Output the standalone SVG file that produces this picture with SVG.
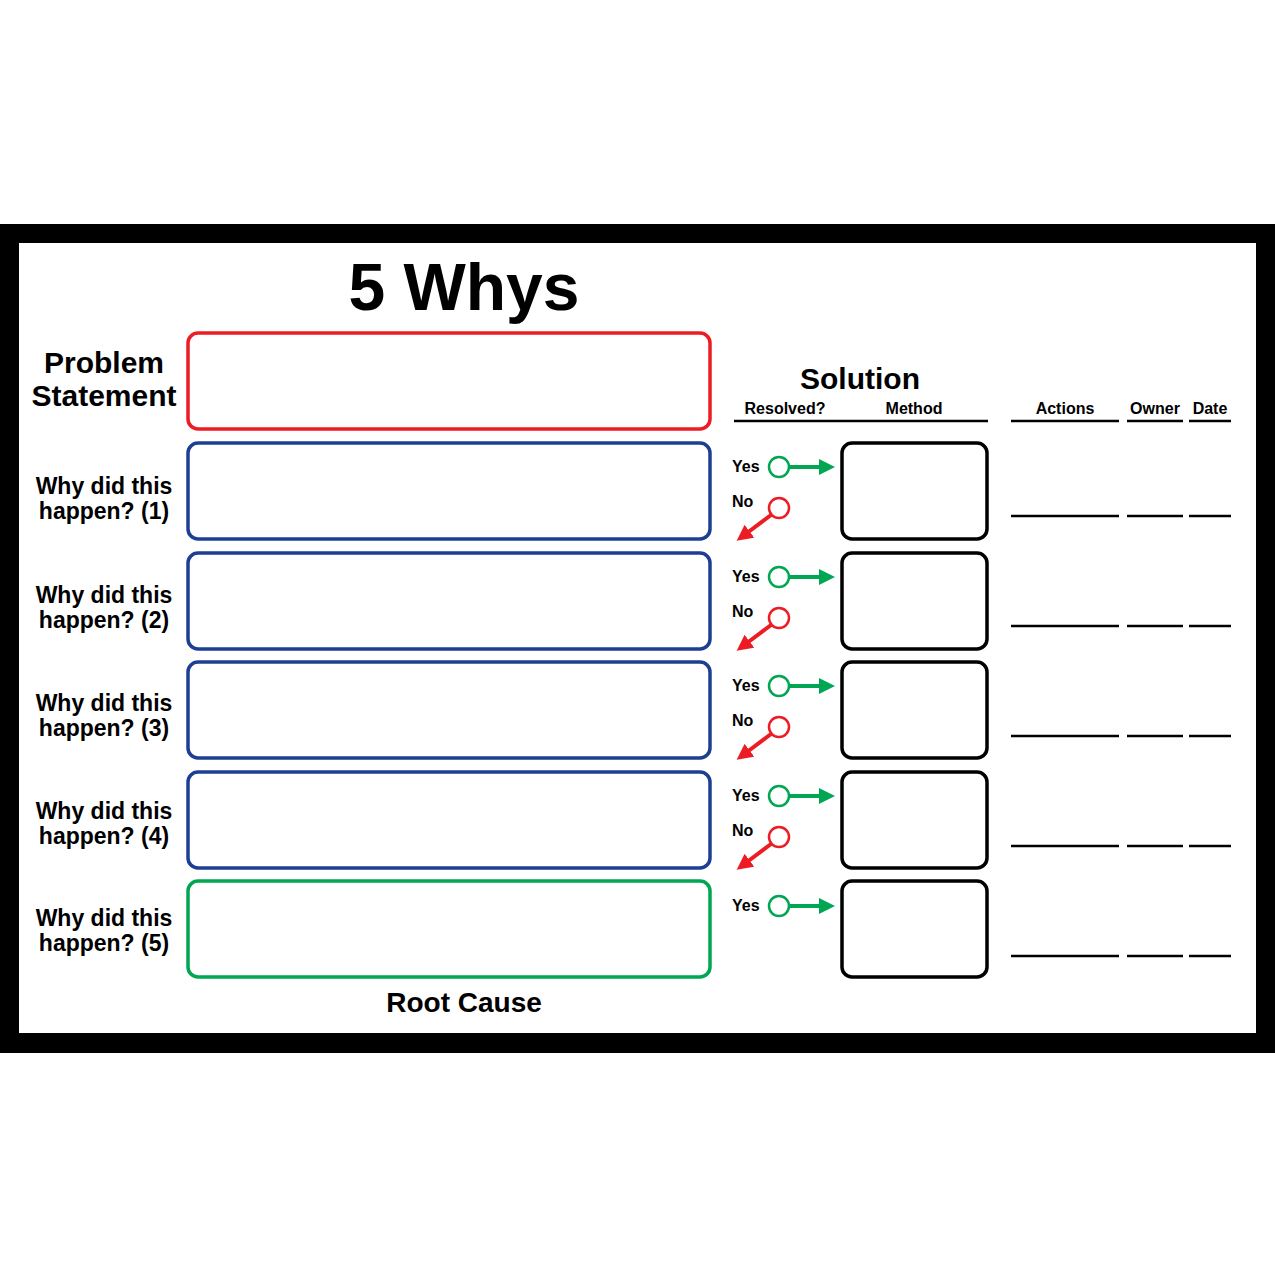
<svg xmlns="http://www.w3.org/2000/svg" width="1275" height="1275" viewBox="0 0 1275 1275">
<style>
text{font-family:"Liberation Sans",Arial,sans-serif;font-weight:bold;fill:#000}
.lbl{font-size:23px;text-anchor:middle}
.sm{font-size:16px}
.box{fill:#fff;stroke-width:3.5}
.m{fill:#fff;stroke:#000;stroke-width:3.5}
.ln{stroke:#000;stroke-width:2.5}
.yc{fill:#fff;stroke:#00a651;stroke-width:2.5}
.nc{fill:#fff;stroke:#ed1c24;stroke-width:2.5}
</style>
<defs>
<marker id="ga" markerWidth="4" markerHeight="4" refX="2" refY="2" orient="auto"><path d="M0,0L4,2L0,4z" fill="#00a651"/></marker>
<marker id="ra" markerWidth="4" markerHeight="4" refX="2" refY="2" orient="auto"><path d="M0,0L4,2L0,4z" fill="#ed1c24"/></marker>
</defs>
<rect width="1275" height="1275" fill="#fff"/>
<rect x="0" y="224" width="1275" height="829" fill="#000"/>
<rect x="19" y="243" width="1237" height="790" fill="#fff"/>
<text x="464" y="310" font-size="66" text-anchor="middle">5 Whys</text>
<g id="problem"><text class="lbl" x="104" y="373" style="font-size:30px">Problem</text><text class="lbl" x="104" y="406" style="font-size:30px">Statement</text>
<rect class="box" x="188" y="333" width="522" height="96" rx="10" stroke="#ed1c24"/></g>
<g id="why1"><text class="lbl" x="104" y="494">Why did this</text><text class="lbl" x="104" y="519">happen? (1)</text><rect class="box" x="188" y="443" width="522" height="96" rx="10" stroke="#1c3f94"/></g>
<g id="why2"><text class="lbl" x="104" y="603">Why did this</text><text class="lbl" x="104" y="628">happen? (2)</text><rect class="box" x="188" y="553" width="522" height="96" rx="10" stroke="#1c3f94"/></g>
<g id="why3"><text class="lbl" x="104" y="711">Why did this</text><text class="lbl" x="104" y="736">happen? (3)</text><rect class="box" x="188" y="662" width="522" height="96" rx="10" stroke="#1c3f94"/></g>
<g id="why4"><text class="lbl" x="104" y="819">Why did this</text><text class="lbl" x="104" y="844">happen? (4)</text><rect class="box" x="188" y="772" width="522" height="96" rx="10" stroke="#1c3f94"/></g>
<g id="why5"><text class="lbl" x="104" y="926">Why did this</text><text class="lbl" x="104" y="951">happen? (5)</text><rect class="box" x="188" y="881" width="522" height="96" rx="10" stroke="#00a651"/>
<text class="lbl" x="464" y="1012" style="font-size:28px">Root Cause</text></g>
<g id="headers">
<text x="860" y="389" font-size="30" text-anchor="middle">Solution</text>
<text class="sm" x="785" y="414" text-anchor="middle">Resolved?</text>
<text class="sm" x="914" y="414" text-anchor="middle">Method</text>
<text class="sm" x="1065" y="414" text-anchor="middle">Actions</text>
<text class="sm" x="1155" y="414" text-anchor="middle">Owner</text>
<text class="sm" x="1210" y="414" text-anchor="middle">Date</text>
<line class="ln" x1="734" y1="421" x2="988" y2="421"/><line class="ln" x1="1011" y1="421" x2="1119" y2="421"/><line class="ln" x1="1127" y1="421" x2="1183" y2="421"/><line class="ln" x1="1189" y1="421" x2="1231" y2="421"/>
</g>
<g id="methods">
<rect class="m" x="842" y="443" width="145" height="96" rx="10"/>
<rect class="m" x="842" y="553" width="145" height="96" rx="10"/>
<rect class="m" x="842" y="662" width="145" height="96" rx="10"/>
<rect class="m" x="842" y="772" width="145" height="96" rx="10"/>
<rect class="m" x="842" y="881" width="145" height="96" rx="10"/>
</g>
<g id="rows">
<line class="ln" x1="1011" y1="516" x2="1119" y2="516"/><line class="ln" x1="1127" y1="516" x2="1183" y2="516"/><line class="ln" x1="1189" y1="516" x2="1231" y2="516"/>
<line class="ln" x1="1011" y1="626" x2="1119" y2="626"/><line class="ln" x1="1127" y1="626" x2="1183" y2="626"/><line class="ln" x1="1189" y1="626" x2="1231" y2="626"/>
<line class="ln" x1="1011" y1="736" x2="1119" y2="736"/><line class="ln" x1="1127" y1="736" x2="1183" y2="736"/><line class="ln" x1="1189" y1="736" x2="1231" y2="736"/>
<line class="ln" x1="1011" y1="846" x2="1119" y2="846"/><line class="ln" x1="1127" y1="846" x2="1183" y2="846"/><line class="ln" x1="1189" y1="846" x2="1231" y2="846"/>
<line class="ln" x1="1011" y1="956" x2="1119" y2="956"/><line class="ln" x1="1127" y1="956" x2="1183" y2="956"/><line class="ln" x1="1189" y1="956" x2="1231" y2="956"/>
</g>
<g id="connectors">
<g><text class="sm" x="732" y="472">Yes</text><circle class="yc" cx="779" cy="467" r="10"/><line x1="790" y1="467" x2="827" y2="467" stroke="#00a651" stroke-width="4" marker-end="url(#ga)"/>
<text class="sm" x="732" y="507">No</text><circle class="nc" cx="779" cy="508" r="10"/><line x1="771" y1="515" x2="743" y2="536" stroke="#ed1c24" stroke-width="4" marker-end="url(#ra)"/></g>
<g transform="translate(0,110)"><text class="sm" x="732" y="472">Yes</text><circle class="yc" cx="779" cy="467" r="10"/><line x1="790" y1="467" x2="827" y2="467" stroke="#00a651" stroke-width="4" marker-end="url(#ga)"/>
<text class="sm" x="732" y="507">No</text><circle class="nc" cx="779" cy="508" r="10"/><line x1="771" y1="515" x2="743" y2="536" stroke="#ed1c24" stroke-width="4" marker-end="url(#ra)"/></g>
<g transform="translate(0,219)"><text class="sm" x="732" y="472">Yes</text><circle class="yc" cx="779" cy="467" r="10"/><line x1="790" y1="467" x2="827" y2="467" stroke="#00a651" stroke-width="4" marker-end="url(#ga)"/>
<text class="sm" x="732" y="507">No</text><circle class="nc" cx="779" cy="508" r="10"/><line x1="771" y1="515" x2="743" y2="536" stroke="#ed1c24" stroke-width="4" marker-end="url(#ra)"/></g>
<g transform="translate(0,329)"><text class="sm" x="732" y="472">Yes</text><circle class="yc" cx="779" cy="467" r="10"/><line x1="790" y1="467" x2="827" y2="467" stroke="#00a651" stroke-width="4" marker-end="url(#ga)"/>
<text class="sm" x="732" y="507">No</text><circle class="nc" cx="779" cy="508" r="10"/><line x1="771" y1="515" x2="743" y2="536" stroke="#ed1c24" stroke-width="4" marker-end="url(#ra)"/></g>
<g transform="translate(0,439)"><text class="sm" x="732" y="472">Yes</text><circle class="yc" cx="779" cy="467" r="10"/><line x1="790" y1="467" x2="827" y2="467" stroke="#00a651" stroke-width="4" marker-end="url(#ga)"/></g>
</g>
</svg>
